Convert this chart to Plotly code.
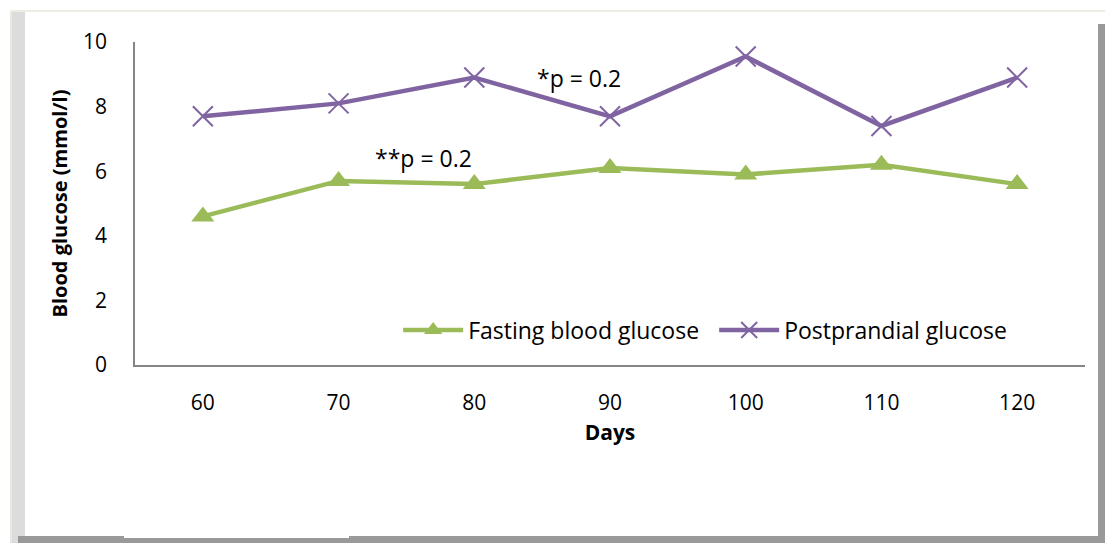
import plotly.graph_objects as go

days = ['60', '70', '80', '90', '100', '110', '120']
fasting = [4.6, 5.7, 5.6, 6.1, 5.9, 6.2, 5.6]
postprandial = [7.7, 8.1, 8.9, 7.7, 9.55, 7.4, 8.9]
y_ticks = [0, 2, 4, 6, 8, 10]

W, H = 1105, 543
L, R, T, B = 135, 20, 42, 178

PLOT_L, PLOT_R, PLOT_T, PLOT_B = L, W - R, T, H - B


# pixel -> paper helpers for the frame shapes
def px(x):
    return (x - PLOT_L) / (PLOT_R - PLOT_L)


def py(y):
    return (PLOT_B - y) / (PLOT_B - PLOT_T)


font_name = 'Open Sans'

fig = go.Figure()

fig.add_trace(go.Scatter(
    x=days, y=fasting, name='Fasting blood glucose',
    mode='lines+markers',
    line=dict(color='#9BBB59', width=4.5),
    marker=dict(symbol='triangle-up', size=20, color='#9BBB59'),
))
fig.add_trace(go.Scatter(
    x=days, y=postprandial, name='Postprandial glucose',
    mode='lines+markers',
    line=dict(color='#8064A2', width=4.5),
    marker=dict(symbol='x-thin', size=20,
                line=dict(color='#8064A2', width=2)),
))

# annotations
fig.add_annotation(x=3, y=8.9, text='*p = 0.2', showarrow=False,
                   xshift=-31, font=dict(size=23, color='black'))
fig.add_annotation(x=1, y=6.4, text='**p = 0.2', showarrow=False,
                   xshift=85, font=dict(size=23, color='black'))

# frame around the chart (beveled look)
shapes = [
    # left light band
    dict(type='rect', xref='paper', yref='paper',
         x0=px(10), x1=px(25), y0=py(543), y1=py(10),
         fillcolor='#DCDCDC', line_width=0, layer='below'),
    dict(type='rect', xref='paper', yref='paper',
         x0=px(10), x1=px(12), y0=py(543), y1=py(10),
         fillcolor='#EAE7DF', line_width=0, layer='below'),
    # top thin line
    dict(type='rect', xref='paper', yref='paper',
         x0=px(10), x1=px(1105), y0=py(12), y1=py(10),
         fillcolor='#EEEBE3', line_width=0, layer='below'),
    # right dark band
    dict(type='rect', xref='paper', yref='paper',
         x0=px(1098), x1=px(1105), y0=py(543), y1=py(24),
         fillcolor='#999999', line_width=0, layer='below'),
    # bottom dark band
    dict(type='rect', xref='paper', yref='paper',
         x0=px(18), x1=px(1105), y0=py(543), y1=py(536),
         fillcolor='#999999', line_width=0, layer='below'),
    dict(type='rect', xref='paper', yref='paper',
         x0=px(124), x1=px(349), y0=py(538), y1=py(536),
         fillcolor='white', line_width=0, layer='below'),
]

fig.update_layout(
    width=W, height=H,
    margin=dict(l=L, r=R, t=T, b=B, autoexpand=False),
    paper_bgcolor='white', plot_bgcolor='white',
    font=dict(family=font_name, size=21, color='black'),
    shapes=shapes,
    showlegend=True,
    legend=dict(orientation='h', x=0.277, y=0.108, xanchor='left', yanchor='middle',
                font=dict(size=23), bgcolor='rgba(0,0,0,0)',
                entrywidth=241, entrywidthmode='pixels',
                itemwidth=60, tracegroupgap=0),
    xaxis=dict(
        type='category', range=[-0.5, 6.5],
        showline=True, linecolor='#868686', linewidth=1.5,
        showgrid=False, ticks='', ticklabelstandoff=18,
        title=dict(text='<b>Days</b>', standoff=10, font=dict(size=21)),
    ),
    yaxis=dict(
        range=[0, 10], tickvals=y_ticks,
        showline=True, linecolor='#868686', linewidth=1.5,
        showgrid=False, zeroline=False, ticks='',
        ticklabelstandoff=22,
        title=dict(text='<b>Blood glucose (mmol/l)</b>', standoff=10,
                   font=dict(size=20)),
    ),
)

# drop the page margin so the figure fills the window exactly
fig.write_html("out.html",
               config={'displayModeBar': False},
               post_script="document.body.style.margin='0';"
                           "document.body.style.overflow='hidden';")
